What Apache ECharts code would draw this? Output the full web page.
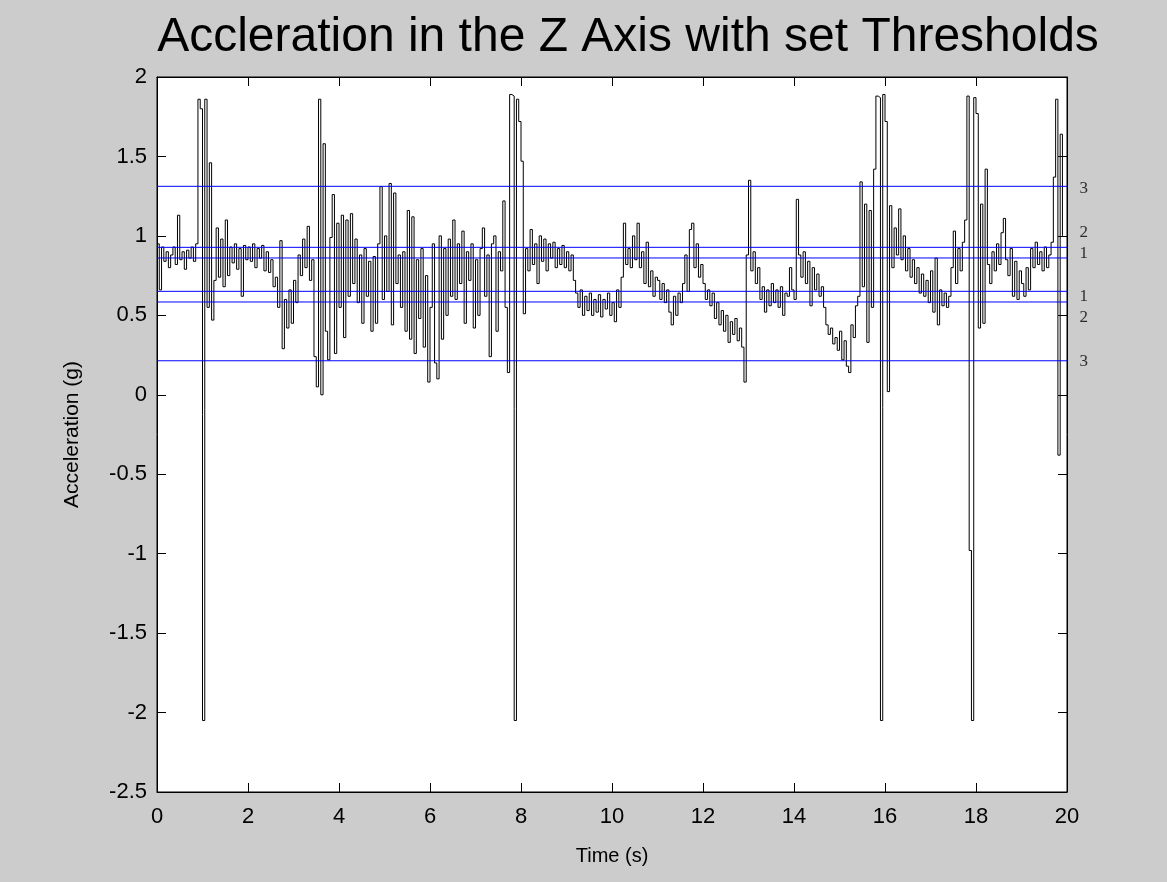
<!DOCTYPE html>
<html>
<head>
<meta charset="utf-8">
<script src="https://cdn.jsdelivr.net/npm/echarts@6/dist/echarts.min.js"></script>
<style>
html,body{margin:0;padding:0;background:#cccccc;}
#chart{width:1167px;height:882px;}
</style>
</head>
<body>
<div id="chart"></div>
<script>
var titleText = 'Accleration in the Z Axis with set Thresholds';
var xAxisName = 'Time (s)';
var yAxisName = 'Acceleration (g)';
var sampleStart = 0;
var sampleStep = 0.05;
var accelZ = [
  0.95,0.66,0.93,0.84,0.90,0.80,0.88,0.93,0.82,1.13,0.85,0.90,0.79,0.91,0.86,0.93,0.84,0.95,1.86,1.80,
  -2.05,1.86,0.55,1.46,0.47,0.72,1.05,0.74,0.98,0.68,1.10,0.75,0.93,0.83,0.95,0.79,0.92,0.62,0.94,0.85,
  0.93,0.84,0.95,0.80,0.92,0.86,0.94,0.78,0.90,0.77,0.85,0.68,0.74,0.55,0.97,0.29,0.60,0.42,0.66,0.45,
  0.72,0.58,0.88,0.75,0.98,0.80,1.06,0.72,0.85,0.24,0.05,1.86,0.00,1.58,0.40,0.22,0.99,1.26,0.26,1.08,
  0.55,1.13,0.36,1.10,0.62,1.14,0.70,0.98,0.58,0.88,0.45,0.92,0.62,0.84,0.40,0.87,0.45,0.95,1.31,0.60,
  1.00,0.65,1.33,0.44,1.27,0.70,0.88,0.55,0.90,0.40,1.16,0.35,1.12,0.26,0.85,0.48,0.92,0.30,0.75,0.08,
  0.55,0.95,0.20,0.10,1.00,0.35,0.92,0.50,0.98,0.62,1.10,0.60,0.95,0.70,1.03,0.45,0.90,0.72,0.95,0.42,
  0.85,0.50,0.92,1.05,0.62,0.88,0.24,0.95,1.00,0.40,0.90,0.78,1.22,0.55,0.14,1.89,1.88,-2.05,1.86,1.72,
  1.47,0.51,0.92,0.78,1.04,0.82,0.95,0.70,1.00,0.84,0.98,0.78,0.95,0.86,0.96,0.80,0.92,0.82,0.94,0.80,
  0.90,0.78,0.88,0.72,0.64,0.55,0.66,0.50,0.62,0.53,0.64,0.50,0.60,0.52,0.63,0.49,0.60,0.54,0.64,0.50,
  0.58,0.46,0.66,0.55,0.74,1.08,0.82,0.92,0.80,1.00,0.85,1.08,0.80,0.90,0.70,0.96,0.68,0.78,0.62,0.74,
  0.72,0.60,0.70,0.58,0.66,0.52,0.44,0.62,0.50,0.64,0.58,0.70,0.88,0.65,1.04,1.08,0.80,0.95,0.74,0.82,
  0.70,0.60,0.66,0.56,0.64,0.48,0.58,0.44,0.53,0.40,0.50,0.33,0.46,0.38,0.48,0.34,0.42,0.30,0.08,0.88,
  1.35,0.78,0.90,0.70,0.80,0.60,0.68,0.52,0.66,0.56,0.70,0.58,0.66,0.55,0.68,0.50,0.64,0.62,0.80,0.66,
  0.60,1.23,0.88,0.74,0.90,0.70,0.84,0.56,0.80,0.66,0.76,0.62,0.68,0.55,0.44,0.38,0.42,0.32,0.36,0.28,
  0.40,0.22,0.34,0.18,0.14,0.44,0.36,0.56,0.62,1.34,0.68,1.20,0.33,1.16,0.55,1.42,1.88,1.87,-2.05,1.89,
  1.72,0.02,1.19,0.80,1.05,0.88,1.17,0.85,1.00,0.78,0.92,0.74,0.85,0.70,0.80,0.64,0.76,0.62,0.72,0.58,
  0.78,0.52,0.86,0.44,0.66,0.56,0.64,0.55,0.62,0.80,1.03,0.70,0.92,0.78,0.96,1.10,1.88,-0.98,-2.05,1.87,
  1.77,0.42,1.20,0.45,1.42,0.82,0.70,0.90,0.78,0.95,0.82,1.02,1.11,0.85,0.75,0.92,0.62,0.84,0.60,0.78,
  0.70,0.62,0.80,0.66,0.92,0.80,0.96,0.82,0.90,0.78,0.93,0.80,0.88,0.96,1.37,1.86,-0.38,1.64,1.00
];
var thresholdValues = [1.312, 0.928, 0.861, 0.651, 0.584, 0.214];
var thresholdLabels = ['3', '2', '1', '1', '2', '3'];
var xTicks = {min: 0, max: 20, interval: 2};
var yTicks = {min: -2.5, max: 2, interval: 0.5};

// vertical nudge of each threshold label (px, + = down)
var labelShift = [2, -15, -4, 5, 16, 1];

var seriesData = accelZ.map(function (v, i) { return [sampleStart + i * sampleStep, v]; });

var font = 'Liberation Sans, Arial, sans-serif';
var serifFont = 'Liberation Serif, Times New Roman, serif';

var thresholdSeries = thresholdValues.map(function (v, i) {
  return {
    type: 'line',
    name: 'threshold' + i,
    data: [[xTicks.min, v], [xTicks.max, v]],
    symbol: 'none',
    silent: true,
    z: 4,
    lineStyle: {color: '#0000ff', width: 1, type: 'solid'}
  };
});
var thresholdLabelSeries = {
  type: 'scatter',
  silent: true,
  symbolSize: 1,
  itemStyle: {color: 'rgba(0,0,0,0)'},
  z: 5,
  data: thresholdValues.map(function (v, i) {
    return {
      value: [xTicks.max, v],
      label: {
        show: true, position: 'right', distance: 12,
        offset: [0, labelShift[i]],
        formatter: thresholdLabels[i],
        fontFamily: serifFont, fontSize: 17, color: '#000'
      }
    };
  })
};

var chart = echarts.init(document.getElementById('chart'), null, {renderer: 'canvas'});
var axisCommon = {
  axisLine: {show: true, onZero: false, lineStyle: {color: '#000', width: 1}},
  axisTick: {show: true, inside: true, length: 9, lineStyle: {color: '#000'}},
  splitLine: {show: false}
};
chart.setOption({
  backgroundColor: '#cccccc',
  animation: false,
  title: {
    text: titleText, left: 623, top: 9, textAlign: 'center',
    textStyle: {fontFamily: font, fontSize: 48, fontWeight: 'normal', color: '#000'}
  },
  grid: {left: 157, right: 100, top: 77, bottom: 90, show: true, backgroundColor: '#ffffff', borderColor: '#000', borderWidth: 1},
  xAxis: [
    Object.assign({}, axisCommon, {
      type: 'value', position: 'bottom', min: xTicks.min, max: xTicks.max, interval: xTicks.interval,
      axisLabel: {fontFamily: font, fontSize: 22, color: '#000', margin: 14},
      name: xAxisName, nameLocation: 'middle', nameGap: 54,
      nameTextStyle: {fontFamily: font, fontSize: 20, color: '#000'}
    }),
    Object.assign({}, axisCommon, {
      type: 'value', position: 'top', min: xTicks.min, max: xTicks.max, interval: xTicks.interval,
      axisLabel: {show: false}
    })
  ],
  yAxis: [
    Object.assign({}, axisCommon, {
      type: 'value', position: 'left', min: yTicks.min, max: yTicks.max, interval: yTicks.interval,
      axisLabel: {fontFamily: font, fontSize: 22, color: '#000', margin: 10},
      name: yAxisName, nameLocation: 'middle', nameGap: 74, nameRotate: 90,
      nameTextStyle: {fontFamily: font, fontSize: 21, color: '#000'}
    }),
    Object.assign({}, axisCommon, {
      type: 'value', position: 'right', min: yTicks.min, max: yTicks.max, interval: yTicks.interval,
      axisLabel: {show: false}
    })
  ],
  series: [{
    type: 'line',
    name: 'accelZ',
    data: seriesData,
    step: 'end',
    showSymbol: false,
    symbol: 'none',
    silent: true,
    lineStyle: {color: '#000', width: 1},
    z: 3
  }].concat(thresholdSeries, [thresholdLabelSeries])
});
</script>
</body>
</html>
